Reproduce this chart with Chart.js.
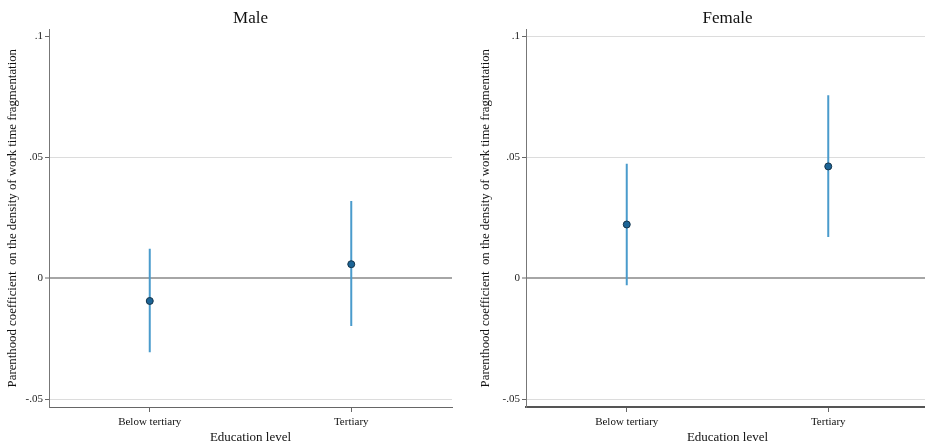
<!DOCTYPE html>
<html>
<head>
<meta charset="utf-8">
<script src="https://cdn.jsdelivr.net/npm/chart.js@4/dist/chart.umd.min.js"></script>
<style>
  html, body { margin: 0; padding: 0; background: #fff; overflow: hidden; width: 925px; height: 445px; }
  .panel { position: absolute; top: 0; }
</style>
</head>
<body>
<div class="panel" style="left:0px"><canvas id="male" width="465" height="445"></canvas></div>
<div class="panel" style="left:470px"><canvas id="female" width="470" height="445"></canvas></div>
<script>
// categories and estimates
const categories = ["Below tertiary", "Tertiary"];
const maleCoef = [-0.0093, 0.0059];
const maleLo   = [-0.0305, -0.0196];
const maleHi   = [0.0123, 0.0320];
const femaleCoef = [0.0223, 0.0463];
const femaleLo   = [-0.0028, 0.0171];
const femaleHi   = [0.0474, 0.0757];
const yTicks = [-0.05, 0, 0.05, 0.1];
const yTickLabels = ["-.05", "0", ".05", ".1"];
const yTitle = "Parenthood coefficient  on the density of work time fragmentation";
const xTitle = "Education level";

const serif = "'Liberation Serif', 'Times New Roman', serif";
const barColor = "#4a9bcc";
const dotColor = "#1c6496";

function makePanel(id, title, coef, lo, hi, cfg) {
  const datasets = [{
    type: "scatter",
    data: coef.map((v, i) => ({ x: i + 1, y: v })),
    pointRadius: 3.5,
    pointBackgroundColor: dotColor,
    pointBorderColor: "#15344a",
    pointBorderWidth: 1,
    order: 0
  }];
  categories.forEach((c, i) => {
    datasets.push({
      type: "scatter",
      showLine: true,
      data: [{ x: i + 1, y: lo[i] }, { x: i + 1, y: hi[i] }],
      borderColor: barColor,
      borderWidth: 2,
      pointRadius: 0,
      order: 1
    });
  });

  new Chart(document.getElementById(id), {
    type: "scatter",
    data: { datasets: datasets },
    options: {
      responsive: false,
      animation: false,
      layout: { padding: { left: 0, right: cfg.padRight, top: 0, bottom: 0 } },
      plugins: {
        legend: { display: false },
        tooltip: { enabled: false },
        title: {
          display: true,
          text: title,
          fullSize: false,
          color: "#111",
          font: { family: serif, size: 17, weight: "normal" },
          padding: { top: 8, bottom: 1 }
        }
      },
      scales: {
        x: {
          type: "linear",
          min: 0.5,
          max: 2.5,
          afterBuildTicks: s => { s.ticks = categories.map((c, i) => ({ value: i + 1 })); },
          afterFit: s => { s.height = 38; },
          ticks: {
            callback: v => categories[v - 1],
            color: "#111",
            font: { family: serif, size: 11 },
            padding: 4,
            maxRotation: 0
          },
          grid: { drawOnChartArea: false, tickLength: 5, tickColor: "#666", tickWidth: 1 },
          border: { color: cfg.xAxisColor, width: cfg.xAxisWidth },
          title: {
            display: true,
            text: xTitle,
            color: "#111",
            font: { family: serif, size: 13 },
            padding: { top: 0, bottom: 0 }
          }
        },
        y: {
          min: -0.0531,
          max: 0.1029,
          afterBuildTicks: s => { s.ticks = yTicks.map(v => ({ value: v })); },
          afterFit: s => { s.width = cfg.yWidth; },
          ticks: {
            callback: v => yTickLabels[yTicks.indexOf(v)],
            color: "#222",
            font: { family: serif, size: 11 },
            padding: 2
          },
          grid: {
            color: c => {
              const v = c.tick ? c.tick.value : null;
              if (v === 0) return "#a6a6a6";
              if (cfg.hideGrid.includes(v)) return "rgba(0,0,0,0)";
              return "#dcdcdc";
            },
            lineWidth: c => (c.tick && c.tick.value === 0 ? 2 : 1),
            tickLength: 4,
            tickColor: "#666",
            tickWidth: 1
          },
          border: { color: "#777", width: 1 },
          title: {
            display: true,
            text: yTitle,
            color: "#111",
            font: { family: serif, size: 12.8 },
            padding: { top: cfg.yTitlePad, bottom: 0 }
          }
        }
      }
    }
  });
}

makePanel("male", "Male", maleCoef, maleLo, maleHi,
  { yWidth: 49, padRight: 13, yTitlePad: 5, hideGrid: [0.1], xAxisColor: "#666", xAxisWidth: 1 });
makePanel("female", "Female", femaleCoef, femaleLo, femaleHi,
  { yWidth: 56, padRight: 11, yTitlePad: 7.5, hideGrid: [], xAxisColor: "#555", xAxisWidth: 2 });
</script>
</body>
</html>
